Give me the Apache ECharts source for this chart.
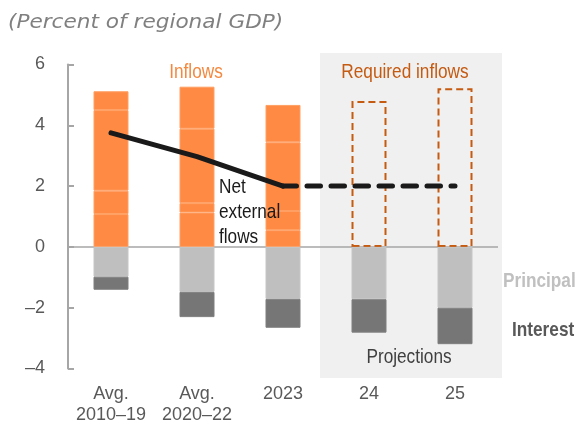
<!DOCTYPE html>
<html><head><meta charset="utf-8">
<script src="https://cdn.jsdelivr.net/npm/echarts@6/dist/echarts.min.js"></script>
<style>html,body{margin:0;padding:0;background:#fff}#c{width:581px;height:427px}</style>
</head><body><div id="c"></div>
<script>
const categories = ['Avg.\n2010–19', 'Avg.\n2020–22', '2023', '24', '25'];
const inflowSeg1 = [1.08, 1.13, 0.55, null, null];
const inflowSeg2 = [0.77, 0.31, 0.63, null, null];
const inflowSeg3 = [2.65, 2.45, 2.26, null, null];
const inflowSeg4 = [0.62, 1.38, 1.23, null, null];
const requiredInflows = [null, null, null, 4.80, 5.22];
const principal = [-0.98, -1.48, -1.71, -1.72, -2.00];
const interest = [-0.43, -0.83, -0.95, -1.10, -1.20];
const netFlows = [3.75, 2.97, 2.00, null, null];
const netFlowsProjected = [null, null, 2.00, 2.00, 2.00];
const yTicks = [-4, -2, 0, 2, 4, 6];

const SANS = "'Liberation Sans', Arial, sans-serif";
const ORANGE = '#FF8A44';
const ORANGE_EDGE = '#FF9F63';

const chart = echarts.init(document.getElementById('c'), null, {renderer: 'canvas'});

function inflowSeries(name, data) {
  return {
    name, type: 'bar', stack: 'flows', data, barWidth: 35,
    itemStyle: {color: ORANGE, borderColor: ORANGE_EDGE, borderWidth: 1},
    silent: true
  };
}
function note(text, x, y, font, fill, extra) {
  return Object.assign({type: 'text', x, y, z: 100, silent: true, scaleX: 0.82,
    style: Object.assign({text, font, fill, verticalAlign: 'middle'}, extra || {})});
}

const option = {
  animation: false,
  backgroundColor: '#fff',
  grid: {left: 68, right: 83, top: 64.5, bottom: 58.5, containLabel: false},
  graphic: [
    {type: 'rect', z: -10, silent: true, shape: {x: 320, y: 53, width: 182, height: 325}, style: {fill: '#F0F0F0'}},
    {type: 'text', x: 8, y: 23, z: 100, scaleX: 1.08, silent: true, style: {text: '(Percent of regional GDP)', font: 'italic 20px "DejaVu Sans", sans-serif', fill: '#808080', verticalAlign: 'middle'}},
    note('Inflows', 196, 72, '21px ' + SANS, '#F4883F', {align: 'center'}),
    note('Required inflows', 405, 72, '21px ' + SANS, '#C55A11', {align: 'center'}),
    note('Net\nexternal\nflows', 219, 212, '21px ' + SANS, '#1A1A1A', {lineHeight: 25}),
    note('Principal', 503, 281, 'bold 21px ' + SANS, '#C0C0C0'),
    note('Interest', 512, 330, 'bold 21px ' + SANS, '#595959'),
    note('Projections', 409, 357, '21px ' + SANS, '#404040', {align: 'center'})
  ],
  xAxis: {
    type: 'category', data: categories,
    axisLine: {show: false}, axisTick: {show: false},
    axisLabel: {fontFamily: SANS, fontSize: 18, color: '#595959', lineHeight: 21, margin: 15, interval: 0}
  },
  yAxis: {
    type: 'value', min: yTicks[0], max: yTicks[yTicks.length - 1], interval: 2,
    splitLine: {show: false},
    axisLine: {show: true, lineStyle: {color: '#A6A6A6', width: 2}},
    axisTick: {show: true, inside: true, length: 6, lineStyle: {color: '#A6A6A6', width: 2}},
    axisLabel: {fontFamily: SANS, fontSize: 18, color: '#595959', margin: 23,
      formatter: v => v < 0 ? '–' + Math.abs(v) : String(v)}
  },
  series: [
    inflowSeries('Inflows 1', inflowSeg1),
    inflowSeries('Inflows 2', inflowSeg2),
    inflowSeries('Inflows 3', inflowSeg3),
    inflowSeries('Inflows 4', inflowSeg4),
    {
      name: 'Required inflows', type: 'bar', stack: 'flows', data: requiredInflows, barWidth: 35, silent: true,
      itemStyle: {color: 'rgba(0,0,0,0)', borderColor: '#C55A11', borderWidth: 2, borderType: [7, 4]}
    },
    {
      name: 'Principal', type: 'bar', stack: 'flows', data: principal, barWidth: 35, silent: true,
      itemStyle: {color: '#BFBFBF', borderColor: '#C6C6C6', borderWidth: 1},
      markLine: {silent: true, symbol: 'none', label: {show: false},
        lineStyle: {color: '#A6A6A6', width: 1.5, type: 'solid'}, data: [{yAxis: 0}], z: 1}
    },
    {
      name: 'Interest', type: 'bar', stack: 'flows', data: interest, barWidth: 35, silent: true,
      itemStyle: {color: '#767676', borderColor: '#7E7E7E', borderWidth: 1}
    },
    {
      name: 'Net external flows', type: 'line', data: netFlows, symbol: 'none', z: 5, silent: true,
      lineStyle: {color: '#1A1A1A', width: 5, cap: 'round', join: 'round'}
    },
    {
      name: 'Net external flows (projected)', type: 'line', data: netFlowsProjected, symbol: 'none', z: 5, silent: true,
      lineStyle: {color: '#1A1A1A', width: 5, cap: 'round', type: [13.5, 10.5]}
    }
  ]
};
chart.setOption(option);
</script></body></html>
